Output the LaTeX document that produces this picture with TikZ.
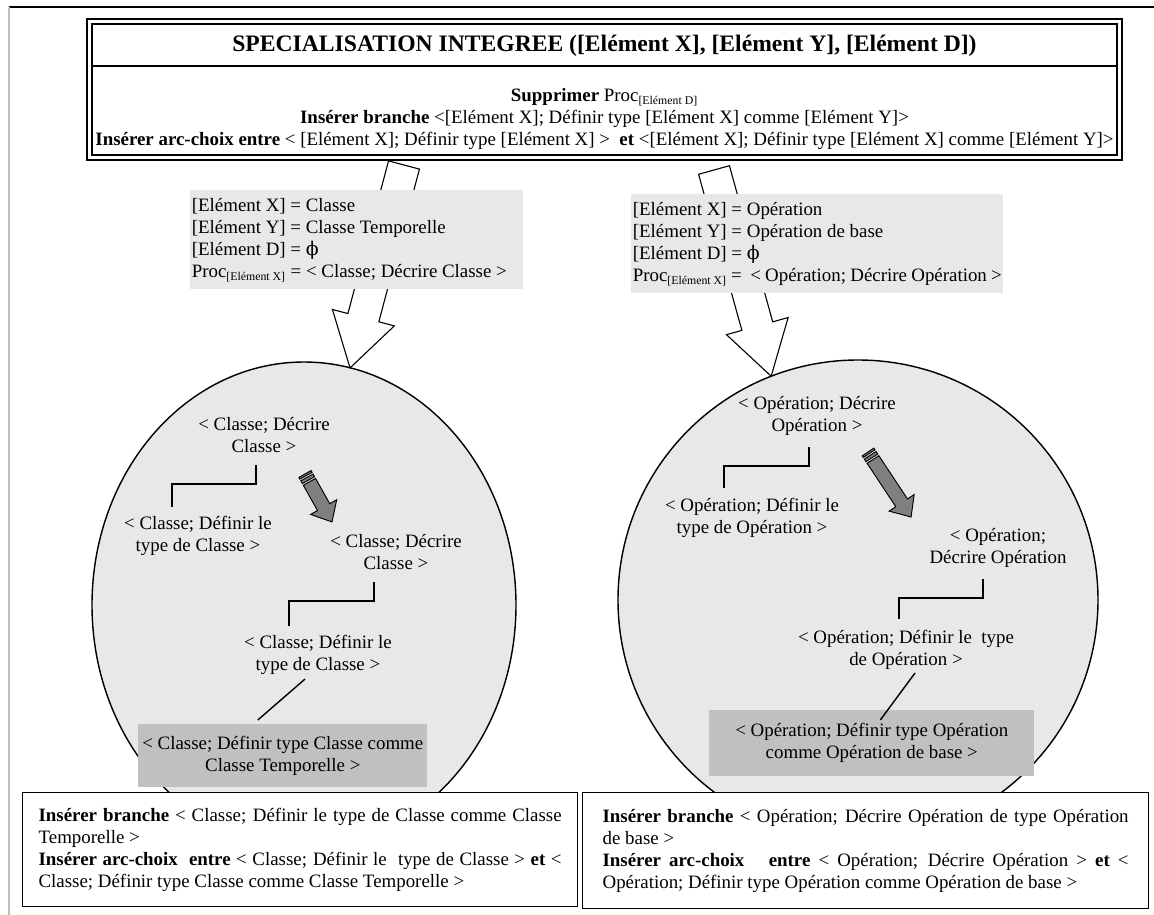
\documentclass[tikz,border=0pt]{standalone}
\usepackage{fontspec}
\setmainfont{Liberation Serif}
\newfontfamily\symfont{DejaVu Serif}
\usetikzlibrary{calc}
\newdimen\px \px=0.635pt
\definecolor{lightgrey}{HTML}{E8E8E8}
\definecolor{darkbox}{HTML}{C0C0C0}
\definecolor{arrowgrey}{HTML}{808080}
\begin{document}
\begin{tikzpicture}[x=0.635pt, y=-0.635pt,
  every node/.style={font=\fontsize{12}{14}\selectfont, inner sep=0pt, align=center},
  greybox/.style={fill=lightgrey, anchor=north west, align=flush left, inner xsep=1.5\px},
  darkfill/.style={fill=darkbox, anchor=north west},
  result/.style={draw, fill=white, line width=0.8pt, anchor=north west, align=flush left, inner xsep=16\px},
  bubble/.style={draw, fill=lightgrey, line width=0.9pt},
  hollow/.style={draw, fill=white, line width=0.7pt},
  striped/.style={draw, fill=arrowgrey, line width=0.6pt},
  link/.style={line width=0.9pt}]
\useasboundingbox (0,0) rectangle (1154,915);

% --- cadre ---
\draw[line width=0.7pt] (9,7) -- (1154,7);
\draw[gray!50, line width=0.8pt] (9,7) -- (9,915);

% --- les deux bulles ---
\draw[bubble] (304,605) ellipse (212 and 243);
\draw[bubble] (858,600) ellipse (240 and 240);

% --- grosses fleches creuses ---
\foreach \tx/\ty/\ang/\len in {404/165/-104.9/210, 714/170/-74.5/214}
  \draw[hollow, shift={(\tx,\ty)}, rotate=\ang]
    (0,-16) -- (\len-52,-16) -- (\len-52,-32) -- (\len,0) -- (\len-52,32) -- (\len-52,16) -- (0,16) -- cycle;

% --- parametres ---
\node[greybox, minimum width=333\px, minimum height=99\px, text width=330\px] (defl) at (190,190)
  {{[Elément X]} = Classe\\
   {[Elément Y]} = Classe Temporelle\\
   {[Elément D]} = {\symfont ϕ}\\
   Proc\textsubscript{\fontsize{7.5}{8}\selectfont[Elément X]} = < Classe; Décrire Classe >};
\node[greybox, minimum width=372\px, minimum height=99\px, text width=369\px] (defr) at (631,194)
  {{[Elément X]} = Opération\\
   {[Elément Y]} = Opération de base\\
   {[Elément D]} = {\symfont ϕ}\\
   Proc\textsubscript{\fontsize{7.5}{8}\selectfont[Elément X]} = \ < Opération; Décrire Opération >};

% --- patron ---
\draw[line width=1.1pt, fill=white] (87,19) rectangle (1122,160);
\draw[line width=1.1pt] (92,24) rectangle (1117,155);
\draw[line width=0.8pt] (92,66) -- (1117,66);
\node[font=\fontsize{15}{17}\selectfont\bfseries] (title) at (604.5,46)
  {SPECIALISATION INTEGREE ([Elément X], [Elément Y], [Elément D])};
\node (ops) at (604.5,119)
  {\textbf{Supprimer} Proc\textsubscript{\fontsize{7.5}{8}\selectfont[Elément D]}\\
   \textbf{Insérer branche} <[Elément X]; Définir type [Elément X] comme [Elément Y]>\\
   \textbf{Insérer arc-choix entre} < [Elément X]; Définir type [Elément X] >\ \ \textbf{et} <[Elément X]; Définir type [Elément X] comme [Elément Y]>};

% --- bulle Classe ---
\node (a1) at (264,435) {< Classe; Décrire\\Classe >};
\node (a2) at (198,536) {< Classe; Définir le\\type de Classe >};
\node (a3) at (396,552) {< Classe; Décrire\\Classe >};
\node (a4) at (318,655) {< Classe; Définir le\\type de Classe >};
\node[darkfill, minimum width=289\px, minimum height=63\px] (a5) at (138,724)
  {< Classe; Définir type Classe comme\\Classe Temporelle >};
\draw[link] ($(a1.south)+(-8,12)$) -- ++(0,19) -| ($(a2.north)+(-26,-9)$);
\draw[link] ($(a3.south)+(-22,12)$) -- ++(0,19) -| ($(a4.north)+(-29,-9)$);
\draw[link] ($(a4.south)+(-13,4)$) -- ($(a5.north)+(-25,-4)$);

% --- bulle Operation ---
\node (b1) at (817,416) {< Opération; Décrire\\Opération >};
\node (b2) at (752,518) {< Opération; Définir le\\type de Opération >};
\node (b3) at (998,548) {< Opération;\\Décrire Opération};
\node (b4) at (906,650) {< Opération; Définir le\ \ type\\de Opération >};
\node[darkfill, minimum width=325\px, minimum height=66\px] (b5) at (709,710)
  {< Opération; Définir type Opération\\comme Opération de base >};
\draw[link] ($(b1.south)+(-8,11)$) -- ++(0,19) -| ($(b2.north)+(-28,-10)$);
\draw[link] ($(b3.south)+(-15,11)$) -- ++(0,19) -| ($(b4.north)+(-7,-11)$);
\draw[link] ($(b4.south)+(9,3)$) -- ($(b5.north)+(8.5,10)$);

% --- fleches grises rayees ---
\foreach \tx/\ty/\ang/\len in {305/474/-60.6/55, 868/452/-56.5/78}
  \draw[striped, shift={(\tx,\ty)}, rotate=\ang]
    (0,-7) rectangle (2,7) (4,-7) rectangle (7,7)
    (9,-7) -- (\len-17,-7) -- (\len-17,-15) -- (\len,0) -- (\len-17,15) -- (\len-17,7) -- (9,7) -- cycle;

% --- resultats ---
\node[result, minimum width=555\px, minimum height=114\px, text width=523\px] (resl) at (22,792)
  {\makebox[\hsize][s]{\textbf{Insérer branche} < Classe; Définir le type de Classe comme Classe}\\
   Temporelle >\\
   \makebox[\hsize][s]{\textbf{Insérer arc-choix\ \ entre} < Classe; Définir le\ \ type de Classe > \textbf{et} <}\\
   Classe; Définir type Classe comme Classe Temporelle >};
\node[result, minimum width=566\px, minimum height=116\px, text width=526\px, inner xsep=20\px] (resr) at (582,792)
  {\makebox[\hsize][s]{\textbf{Insérer branche} < Opération; Décrire Opération de type Opération}\\
   de base >\\
   \makebox[\hsize][s]{\textbf{Insérer arc-choix\ \ \ entre} < Opération; Décrire Opération > \textbf{et} <}\\
   Opération; Définir type Opération comme Opération de base >};
\end{tikzpicture}
\end{document}
